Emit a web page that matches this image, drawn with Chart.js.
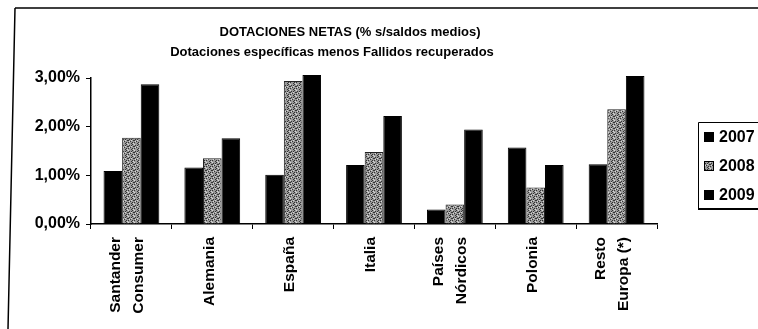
<!DOCTYPE html>
<html>
<head>
<meta charset="utf-8">
<script src="https://cdn.jsdelivr.net/npm/chart.js@4/dist/chart.umd.min.js"></script>
<style>
  html, body { margin: 0; padding: 0; background: #fff; }
  #wrap { width: 758px; height: 329px; position: relative; }
</style>
</head>
<body>
<div id="wrap"><canvas id="c" width="758" height="329"></canvas></div>
<script>
// Regions and yearly net provisions (% over average balances)
const categories = [
  ['Santander', 'Consumer'],
  'Alemania',
  'España',
  'Italia',
  ['Países', 'Nórdicos'],
  'Polonia',
  ['Resto', 'Europa (*)']
];
const years = ['2007', '2008', '2009'];
const values2007 = [1.09, 1.16, 1.01, 1.21, 0.30, 1.57, 1.23];
const values2008 = [1.77, 1.35, 2.94, 1.48, 0.40, 0.75, 2.36];
const values2009 = [2.87, 1.76, 3.06, 2.22, 1.94, 1.21, 3.04];
const yTicks = [0, 1, 2, 3];
const titleLines = [
  'DOTACIONES NETAS (% s/saldos medios)',
  'Dotaciones específicas menos Fallidos recuperados'
];

// Stippled grey fill for the middle series
function stipple() {
  const p = document.createElement('canvas');
  p.width = 6; p.height = 6;
  const g = p.getContext('2d');
  g.fillStyle = '#999999';
  g.fillRect(0, 0, 6, 6);
  g.fillStyle = '#333333';
  const dots = [[0,0],[3,1],[1,2],[4,3],[2,4],[5,5],[0,4],[5,1],[2,2]];
  dots.forEach(([x, y]) => g.fillRect(x, y, 1, 1));
  g.fillStyle = '#d8d8d8';
  [[2,0],[5,2],[1,5],[3,3]].forEach(([x, y]) => g.fillRect(x, y, 1, 1));
  return g.createPattern(p, 'repeat');
}

const ctx = document.getElementById('c').getContext('2d');
const pattern2008 = stipple();
const FONT = '"Liberation Sans", Arial, Helvetica, sans-serif';
const LABEL_SIZE = 15.5;

const isTwoLine = i => Array.isArray(categories[i]);

const decorations = {
  id: 'decorations',
  afterDraw(chart) {
    const c = chart.ctx;
    c.save();
    // outer frame
    c.strokeStyle = '#000';
    c.lineWidth = 1.5;
    c.beginPath();
    c.moveTo(15, 8);
    c.lineTo(758, 8);
    c.moveTo(15, 8);
    c.lineTo(8, 329);
    c.stroke();

    // title
    c.fillStyle = '#000';
    c.font = 'bold 13px ' + FONT;
    c.textAlign = 'center';
    c.textBaseline = 'middle';
    c.fillText(titleLines[0], 350, 32);
    c.fillText(titleLines[1], 332, 52);

    // legend
    const lx = 698, ly = 122, lw = 70, lh = 87;
    c.lineWidth = 1;
    c.beginPath();
    c.moveTo(lx + 0.5, ly + lh);
    c.lineTo(lx + 0.5, ly + 0.5);
    c.lineTo(lx + lw, ly + 0.5);
    c.stroke();
    c.lineWidth = 2;
    c.beginPath();
    c.moveTo(lx, ly + lh);
    c.lineTo(lx + lw, ly + lh);
    c.stroke();
    const rows = [137, 166, 195];
    c.font = 'bold 16px ' + FONT;
    c.textAlign = 'left';
    chart.data.datasets.forEach((ds, i) => {
      c.fillStyle = ds.backgroundColor;
      c.fillRect(704, rows[i] - 5, 10, 10);
      c.strokeStyle = '#000';
      c.lineWidth = 1;
      c.strokeRect(704.5, rows[i] - 4.5, 9, 9);
      c.fillStyle = '#000';
      c.fillText(ds.label, 719, rows[i] + 1);
    });
    c.restore();
  }
};

new Chart(ctx, {
  type: 'bar',
  data: {
    labels: categories,
    datasets: [
      { label: years[0], data: values2007, backgroundColor: '#000', borderColor: '#000', borderWidth: 1, clip: false },
      { label: years[1], data: values2008, backgroundColor: pattern2008, borderColor: '#222', borderWidth: 1, clip: false },
      { label: years[2], data: values2009, backgroundColor: '#000', borderColor: '#000', borderWidth: 1, clip: false }
    ]
  },
  options: {
    responsive: false,
    animation: false,
    layout: { padding: { left: 10, right: 101, top: 78, bottom: 0 } },
    plugins: {
      legend: { display: false },
      title: { display: false },
      tooltip: { enabled: false }
    },
    datasets: { bar: { categoryPercentage: 0.69, barPercentage: 1.0 } },
    scales: {
      x: {
        afterFit(scale) { scale.height = 105; },
        grid: { offset: true, drawOnChartArea: false, color: '#000', tickLength: 5, lineWidth: 1 },
        border: { color: '#000', width: 1.5 },
        ticks: {
          color: '#000',
          minRotation: 90,
          maxRotation: 90,
          padding: 8,
          autoSkip: false,
          labelOffset: -16,
          // one-line names get a short blank lead line so they sit near the tick
          callback(value, index) {
            const lbl = this.getLabelForValue(value);
            return isTwoLine(index) ? lbl : ['', lbl];
          },
          font: c => ({
            family: FONT, size: LABEL_SIZE, weight: 'bold',
            lineHeight: (isTwoLine(c.index) ? 23 : 13) / LABEL_SIZE
          })
        }
      },
      y: {
        min: 0,
        max: 3,
        afterFit(scale) { scale.width = 81; },
        afterBuildTicks(scale) { scale.ticks = yTicks.map(v => ({ value: v })); },
        grid: { drawOnChartArea: false, color: '#000', tickLength: 5, lineWidth: 1 },
        border: { color: '#000', width: 1.5 },
        ticks: {
          color: '#000',
          padding: 6,
          font: { family: FONT, size: 16, weight: 'bold' },
          callback: v => v.toFixed(2).replace('.', ',') + '%'
        }
      }
    }
  },
  plugins: [decorations]
});
</script>
</body>
</html>
